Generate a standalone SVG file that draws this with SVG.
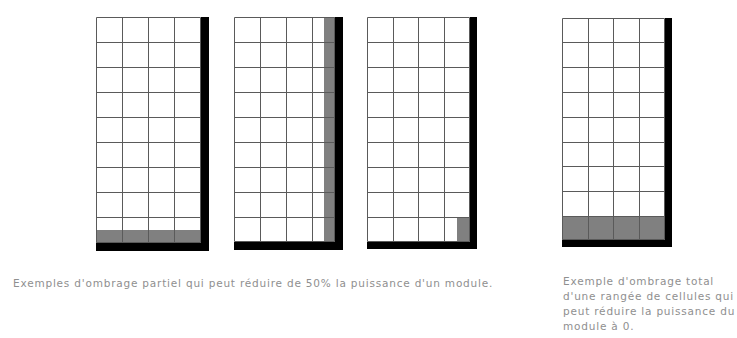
<svg xmlns="http://www.w3.org/2000/svg" width="737" height="338" viewBox="0 0 737 338">
<style>
.bg{fill:#fff}
.grid{fill:none;stroke:#5a5a5a;stroke-width:1}
.shade{fill:#808080}
.dark{fill:#000}
.cap{font-family:"DejaVu Sans",Verdana,sans-serif;font-size:10.5px;letter-spacing:0.8px;fill:#8f8f8f}
</style>
<rect width="737" height="338" fill="#fff"/>
<g id="module1">
<rect class="bg" x="96" y="17" width="105" height="226"/>
<rect class="shade" x="96" y="230" width="105" height="13"/>
<path class="grid" d="M96.5 17.5H200.5V242.5H96.5Z M122.5 17V243 M148.5 17V243 M174.5 17V243 M96 42.5H201 M96 67.5H201 M96 92.5H201 M96 117.5H201 M96 142.5H201 M96 167.5H201 M96 192.5H201 M96 217.5H201"/>
<rect class="dark" x="201" y="17" width="8" height="234"/>
<rect class="dark" x="96" y="243" width="113" height="8"/>
</g>
<g id="module2">
<rect class="bg" x="234" y="17" width="101" height="225"/>
<rect class="shade" x="324" y="17" width="11" height="225"/>
<path class="grid" d="M234.5 17.5H334.5V241.5H234.5Z M260.5 17V242 M286.5 17V242 M312.5 17V242 M234 42.5H335 M234 67.5H335 M234 92.5H335 M234 117.5H335 M234 142.5H335 M234 167.5H335 M234 192.5H335 M234 217.5H335"/>
<rect class="dark" x="335" y="17" width="8" height="233"/>
<rect class="dark" x="234" y="242" width="109" height="8"/>
</g>
<g id="module3">
<rect class="bg" x="367" y="17" width="103" height="225"/>
<rect class="shade" x="457" y="217" width="13" height="25"/>
<path class="grid" d="M367.5 17.5H469.5V241.5H367.5Z M393.5 17V242 M418.5 17V242 M444.5 17V242 M367 42.5H470 M367 67.5H470 M367 92.5H470 M367 117.5H470 M367 142.5H470 M367 167.5H470 M367 192.5H470 M367 217.5H470"/>
<rect class="dark" x="470" y="17" width="7" height="232"/>
<rect class="dark" x="367" y="242" width="110" height="7"/>
</g>
<g id="module4">
<rect class="bg" x="562" y="18" width="103" height="222"/>
<rect class="shade" x="562" y="216" width="103" height="24"/>
<path class="grid" d="M562.5 18.5H664.5V239.5H562.5Z M588.5 18V240 M613.5 18V240 M639.5 18V240 M562 42.5H665 M562 67.5H665 M562 92.5H665 M562 117.5H665 M562 142.5H665 M562 166.5H665 M562 191.5H665 M562 216.5H665"/>
<rect class="dark" x="665" y="18" width="7" height="229"/>
<rect class="dark" x="562" y="240" width="110" height="7"/>
</g>
<g id="connectors"></g>
<g id="captions">
<text class="cap" x="13" y="287">Exemples d'ombrage partiel qui peut réduire de 50% la puissance d'un module.</text>
<text class="cap" x="563" y="285">Exemple d'ombrage total</text>
<text class="cap" x="563" y="300">d'une rangée de cellules qui</text>
<text class="cap" x="563" y="315">peut réduire la puissance du</text>
<text class="cap" x="563" y="330">module à 0.</text>
</g>
</svg>
